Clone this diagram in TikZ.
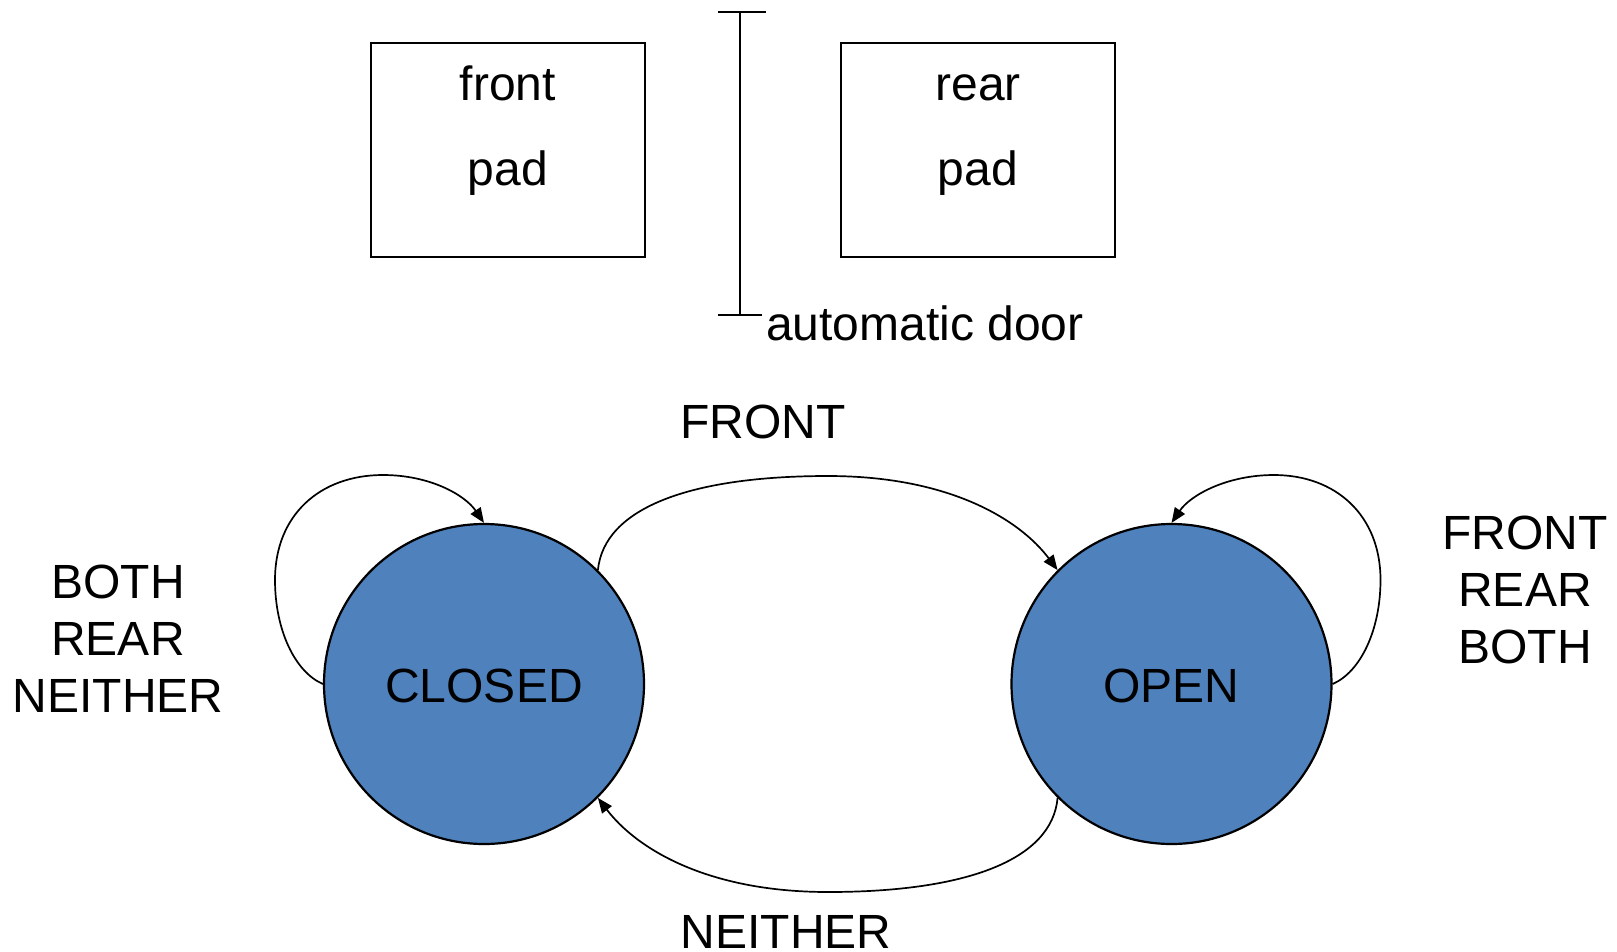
\documentclass[tikz,border=0pt]{standalone}
\usepackage{fontspec}
\setmainfont{Liberation Sans}
\usetikzlibrary{arrows.meta}

\definecolor{statefill}{RGB}{79,129,189}

\begin{document}
\begin{tikzpicture}[x=1pt,y=-1pt,
  every node/.style={font=\fontsize{48}{57}\selectfont, inner sep=0pt},
  padbox/.style={draw, line width=2pt, minimum width=274pt, minimum height=214pt},
  state/.style={circle, draw, line width=2.2pt, fill=statefill, minimum size=320pt},
  label/.style={anchor=base},
  trans/.style={line width=1.7pt, -{Triangle[length=15pt,width=12pt]}},
  doorline/.style={line width=2pt}]

  \useasboundingbox (0,0) rectangle (1617,951);

  % floor pads on either side of the door
  \node[padbox] (frontpad) at (508,150) {};
  \node[label] (fronttext) at (508,100) {\begin{tabular}[t]{@{}c@{}}front\\[28pt]pad\end{tabular}};
  \node[padbox] (rearpad) at (978,150) {};
  \node[label] (reartext) at (978,100) {\begin{tabular}[t]{@{}c@{}}rear\\[28pt]pad\end{tabular}};

  % the door itself
  \coordinate (doortop) at (740,12);
  \coordinate (doorbot) at (740,315);
  \draw[doorline] (doortop) -- (doorbot);
  \draw[doorline] ([xshift=-22pt]doortop) -- ([xshift=26pt]doortop);
  \draw[doorline] ([xshift=-22pt]doorbot) -- ([xshift=22pt]doorbot);
  \node[anchor=base west] (doortext) at (766,340) {automatic door};

  % states
  \node[state] (closed) at (484,684) {};
  \node[label] (closedtext) at (484,702) {CLOSED};
  \node[state] (open) at (1171.5,684) {};
  \node[label] (opentext) at (1171.5,702) {OPEN};

  % transitions between the states
  \draw[trans] (closed.45) .. controls (604,508) and (690,476) .. (828,476)
                           .. controls (950,476) and (1020,520) .. (open.135);
  \draw[trans] (open.225) .. controls (1052,860) and (966,892) .. (828,892)
                          .. controls (706,892) and (636,848) .. (closed.-45);

  % self loops
  \draw[trans] (closed.180) .. controls (295,672) and (275,630) .. (275,580)
                            .. controls (275,515) and (320,475) .. (383,475)
                            .. controls (430,475) and (465,495) .. (closed.90);
  \draw[trans] (open.0) .. controls (1360.5,672) and (1380.5,630) .. (1380.5,580)
                        .. controls (1380.5,515) and (1335.5,475) .. (1274,475)
                        .. controls (1227,475) and (1190.5,495) .. (open.90);

  % transition labels
  \node[label] (lfront) at (763,438) {FRONT};
  \node[label] (lneither) at (786,948) {NEITHER};
  \node[label] (lclosedloop) at (118,598) {\begin{tabular}[t]{@{}c@{}}BOTH\\REAR\\NEITHER\end{tabular}};
  \node[label] (lopenloop) at (1525,549) {\begin{tabular}[t]{@{}c@{}}FRONT\\REAR\\BOTH\end{tabular}};
\end{tikzpicture}
\end{document}
